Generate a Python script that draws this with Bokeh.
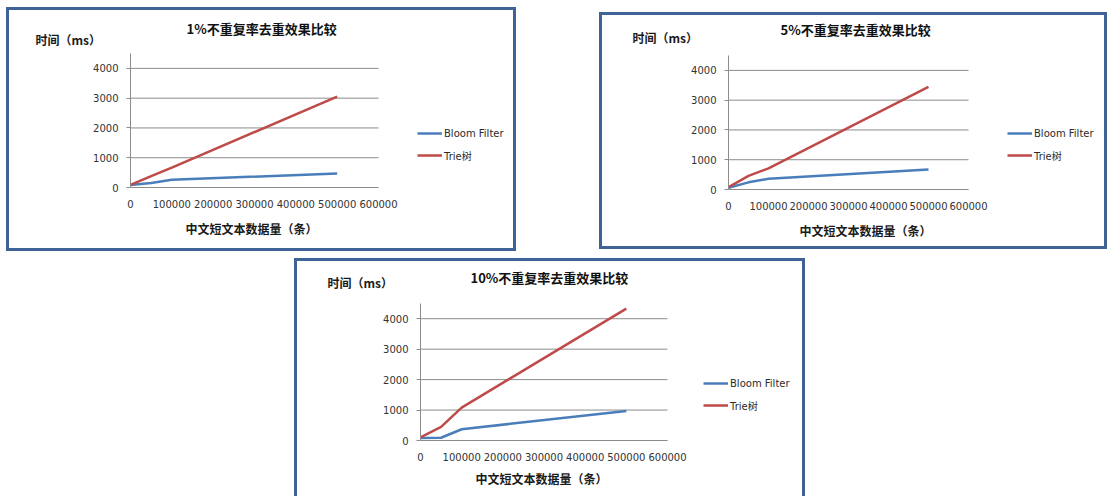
from bokeh.plotting import figure
from bokeh.models import (Range1d, FixedTicker, BasicTickFormatter, Legend, LegendItem,
                          Title, Spacer)
from bokeh.layouts import row, column
from bokeh.embed import file_html
from bokeh.resources import INLINE

# ---- data ----
x_counts = [0, 50000, 100000, 500000]
titles = ["1%不重复率去重效果比较", "5%不重复率去重效果比较", "10%不重复率去重效果比较"]
bloom_1 = [80, 150, 260, 470]
trie_1 = [90, 380, 670, 3050]
bloom_5 = [60, 240, 360, 670]
trie_5 = [80, 460, 710, 3450]
bloom_10 = [80, 90, 370, 970]
trie_10 = [100, 450, 1080, 4330]
series_names = ["Bloom Filter", "Trie树"]
x_ticks = [0, 100000, 200000, 300000, 400000, 500000, 600000]
y_ticks = [0, 1000, 2000, 3000, 4000]
y_max = 4500
y_label = "时间（ms）"
x_label = "中文短文本数据量（条）"

BLUE = "#4A7EBB"
RED = "#BE4B48"
GRID = "#8C8C8C"
BORDER = "#3F6396"
CJK = "Noto Sans CJK SC"
NUM = "DejaVu Sans, Noto Sans CJK SC"


def make_chart(title, bloom, trie, w, h, fl, ft, fb, data_px, title_off, ylab_off,
               ylab_st, ylab_valign, title_st, xlab_off, xlab_st, leg_dx, leg_y):
    mbr = 4
    frame_w = w - fl - mbr
    x_end = x_ticks[-1] * frame_w / data_px   # x axis spans only part of the frame
    p = figure(width=w, height=h, output_backend="svg", toolbar_location=None,
               x_range=Range1d(0, x_end), y_range=Range1d(0, y_max),
               min_border_left=fl, min_border_right=mbr, min_border_top=ft,
               min_border_bottom=fb)
    p.styles = {"box-shadow": "0 0 0 3px " + BORDER}
    p.outline_line_color = None
    p.background_fill_color = "white"
    p.border_fill_color = "white"

    # y caption (closest to the frame), then the chart title on about the same row
    p.add_layout(Title(text=y_label, align="left", offset=ylab_off,
                       standoff=ylab_st, vertical_align=ylab_valign,
                       text_font=CJK, text_font_size="12px", text_font_style="bold",
                       text_color="#1a1a1a"), "above")
    p.add_layout(Title(text=title, align="left", offset=title_off,
                       standoff=title_st,
                       text_font=CJK, text_font_size="13px", text_font_style="bold",
                       text_color="#111111"), "above")

    # horizontal gridlines, limited to the 0..600000 span of the x axis
    p.xgrid.visible = False
    p.ygrid.visible = False
    p.segment(x0=[x_ticks[0]] * len(y_ticks), x1=[x_ticks[-1]] * len(y_ticks),
              y0=y_ticks, y1=y_ticks, line_color=GRID, line_width=1)

    xa = p.xaxis[0]
    xa.bounds = (x_ticks[0], x_ticks[-1])
    xa.ticker = FixedTicker(ticks=x_ticks)
    xa.formatter = BasicTickFormatter(use_scientific=False)
    xa.axis_line_color = GRID
    xa.major_tick_line_color = None
    xa.minor_tick_line_color = None
    xa.major_label_standoff = 6
    xa.major_label_text_font = NUM
    xa.major_label_text_font_size = "10px"
    xa.major_label_text_color = "#333333"

    # x caption under the axis
    p.add_layout(Title(text=x_label, align="left", offset=xlab_off, standoff=xlab_st,
                       text_font=CJK, text_font_size="12px", text_font_style="bold",
                       text_color="#1a1a1a"), "below")

    ya = p.yaxis[0]
    ya.ticker = FixedTicker(ticks=y_ticks)
    ya.axis_line_color = GRID
    ya.major_tick_line_color = GRID
    ya.major_tick_out = 4
    ya.major_tick_in = 0
    ya.minor_tick_line_color = None
    ya.major_label_standoff = 8
    ya.major_label_text_font = NUM
    ya.major_label_text_font_size = "10px"
    ya.major_label_text_color = "#333333"

    r1 = p.line(x_counts, bloom, line_color=BLUE, line_width=2.5)
    r2 = p.line(x_counts, trie, line_color=RED, line_width=2.5)

    leg = Legend(items=[LegendItem(label=series_names[0], renderers=[r1]),
                        LegendItem(label=series_names[1], renderers=[r2])],
                 location=(data_px + leg_dx, leg_y),
                 margin=0, padding=0, spacing=2,
                 glyph_width=25, glyph_height=20, label_height=20, label_standoff=2,
                 label_text_font=NUM, label_text_font_size="10px",
                 label_text_color="#2a2a2a",
                 border_line_color=None, background_fill_alpha=0)
    p.add_layout(leg)
    return p


p1 = make_chart(titles[0], bloom_1, trie_1, 504, 238, 121, 43, 61, 248,
                56, -95, 12, "bottom", -30, 55, 15, 39, 22)
p2 = make_chart(titles[1], bloom_5, trie_5, 502, 231, 126, 40, 57, 240,
                52, -96, 20, "bottom", -45, 71, 14, 39, 24)
p3 = make_chart(titles[2], bloom_10, trie_10, 505, 235, 123, 42, 56, 247,
                50, -93, 21, "top", -47, 55, 9, 36, 25)

top_row = row(Spacer(width=9, height=238), p1, Spacer(width=89, height=238),
              column(Spacer(width=502, height=5), p2))
bottom_row = row(Spacer(width=297, height=235), p3)
layout = column(Spacer(width=1107, height=10), top_row,
                Spacer(width=1107, height=13), bottom_row)

open("out.html", "w").write(file_html(layout, INLINE))
